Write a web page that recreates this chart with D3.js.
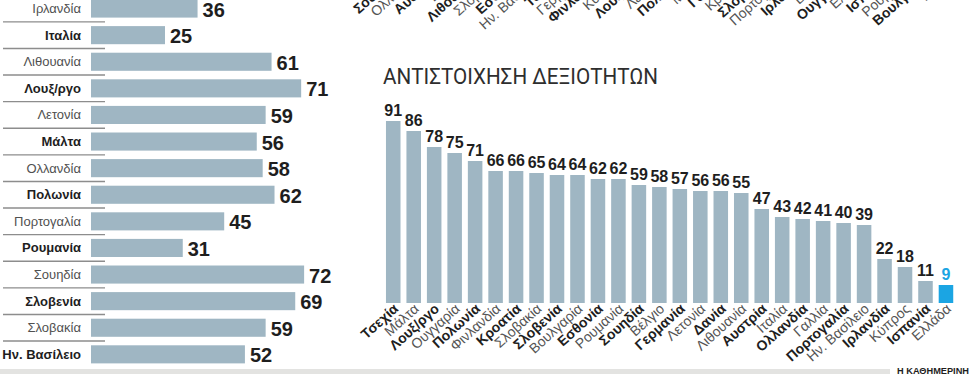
<!DOCTYPE html>
<html>
<head>
<meta charset="utf-8">
<script src="https://cdn.jsdelivr.net/npm/d3@7"></script>
<style>
	body { margin: 0; background: #fff; }
	svg { display: block; }
	.name { font-family: "Liberation Sans", Arial, sans-serif; }
	.num { font-family: "Liberation Sans Narrow", "Liberation Sans", sans-serif; font-weight: bold; fill: #1e1e1e; }
</style>
</head>
<body>
<svg id="chart" width="971" height="377"></svg>
<script>
// left chart (continues from above, only the lower rows are visible)
var leftCountries = ['Ιρλανδία', 'Ιταλία', 'Λιθουανία', 'Λουξ/ργο', 'Λετονία', 'Μάλτα', 'Ολλανδία',
	'Πολωνία', 'Πορτογαλία', 'Ρουμανία', 'Σουηδία', 'Σλοβενία', 'Σλοβακία', 'Ην. Βασίλειο'];
var leftValues = [36, 25, 61, 71, 59, 56, 58, 62, 45, 31, 72, 69, 59, 52];

// right chart: skills matching
var title = 'ΑΝΤΙΣΤΟΙΧΗΣΗ ΔΕΞΙΟΤΗΤΩΝ';
var skillCountries = ['Τσεχία', 'Μάλτα', 'Λουξ/ργο', 'Ουγγαρία', 'Πολωνία', 'Φινλανδία', 'Κροατία',
	'Σλοβακία', 'Σλοβενία', 'Βουλγαρία', 'Εσθονία', 'Ρουμανία', 'Σουηδία', 'Βέλγιο', 'Γερμανία',
	'Λετονία', 'Δανία', 'Λιθουανία', 'Αυστρία', 'Ιταλία', 'Ολλανδία', 'Γαλλία', 'Πορτογαλία',
	'Ην. Βασίλειο', 'Ιρλανδία', 'Κύπρος', 'Ισπανία', 'Ελλάδα'];
var skillValues = [91, 86, 78, 75, 71, 66, 66, 65, 64, 64, 62, 62, 59, 58, 57, 56, 56, 55,
	47, 43, 42, 41, 40, 39, 22, 18, 11, 9];

// labels of the chart above, cut by the top edge
var aboveCountries = ['Σουηδία', 'Ολλανδία', 'Αυστρία', 'Δανία', 'Λιθουανία', 'Σλοβακία', 'Εσθονία',
	'Ην. Βασίλειο', 'Τσεχία', 'Γερμανία', 'Φινλανδία', 'Κύπρος', 'Λουξ/ργο', 'Λετονία', 'Πολωνία',
	'Μάλτα', 'Γαλλία', 'Κροατία', 'Σλοβενία', 'Πορτογαλία', 'Ιρλανδία', 'Βέλγιο', 'Ουγγαρία',
	'Ελλάδα', 'Ισπανία', 'Ρουμανία', 'Βουλγαρία', 'Ιταλία'];

var credit = 'Η ΚΑΘΗΜΕΡΙΝΗ';

var barColor = '#9fb6c3',
	greeceColor = '#1ba5e3';

var svg = d3.select('#chart');

/* left horizontal bars */
(function () {
	var x = d3.scaleLinear().domain([0, 100]).range([91, 387]);
	var y = d3.scaleBand().domain(leftCountries).range([-9, 371.9]).padding(0.32);
	var g = svg.append('g').attr('class', 'left');

	// separators between rows
	g.selectAll('line.sep')
		.data(leftCountries.slice(1))
		.enter().append('line')
		.attr('x1', 3).attr('x2', 105)
		.attr('y1', function (d) { return y(d) - y.step() * y.paddingInner() / 2; })
		.attr('y2', function (d) { return y(d) - y.step() * y.paddingInner() / 2; })
		.attr('stroke', '#8d8d8d')
		.attr('stroke-width', 1.4);

	g.selectAll('rect')
		.data(leftValues)
		.enter().append('rect')
		.attr('x', x(0))
		.attr('y', function (d, i) { return y(leftCountries[i]); })
		.attr('width', function (d) { return x(d) - x(0); })
		.attr('height', y.bandwidth())
		.attr('fill', barColor);

	g.selectAll('text.name')
		.data(leftCountries)
		.enter().append('text')
		.attr('class', 'name')
		.attr('x', 81)
		.attr('y', function (d) { return y(d) + y.bandwidth() / 2 + 4.5; })
		.attr('text-anchor', 'end')
		.attr('font-size', 13)
		.attr('font-weight', function (d, i) { return i % 2 ? 'bold' : 'normal'; })
		.attr('fill', function (d, i) { return i % 2 ? '#1e1e1e' : '#505050'; })
		.text(function (d) { return d; });

	g.selectAll('text.num')
		.data(leftValues)
		.enter().append('text')
		.attr('class', 'num')
		.attr('x', function (d) { return x(d) + 5; })
		.attr('y', function (d, i) { return y(leftCountries[i]) + y.bandwidth() / 2 + 8; })
		.attr('font-size', 20)
		.text(function (d) { return d; });
})();

/* right vertical bars */
(function () {
	var x = d3.scaleBand().domain(skillCountries).range([383, 956.2]).paddingInner(0.29).paddingOuter(0.145);
	var xAbove = d3.scaleBand().domain(aboveCountries).range([383, 956.2]).paddingInner(0.29).paddingOuter(0.145);
	var y = d3.scaleLinear().domain([0, 100]).range([303, 103]);
	var g = svg.append('g').attr('class', 'right');

	function rotatedLabels(scale, names, baseY, parity) {
		g.selectAll(null)
			.data(names)
			.enter().append('text')
			.attr('class', 'name')
			.attr('text-anchor', 'end')
			.attr('font-size', 14)
			.attr('font-weight', function (d, i) { return i % 2 === parity ? 'bold' : 'normal'; })
			.attr('fill', function (d, i) { return i % 2 === parity ? '#1e1e1e' : '#555'; })
			.attr('transform', function (d) {
				return 'translate(' + (scale(d) + scale.bandwidth() / 2 + 6) + ',' + baseY + ') rotate(-42)';
			})
			.text(function (d) { return d; });
	}

	rotatedLabels(xAbove, aboveCountries, -22, 0);

	g.append('text')
		.attr('x', 383)
		.attr('y', 84)
		.attr('font-family', 'Roboto, sans-serif')
		.attr('font-size', 22)
		.attr('fill', '#2e2e2e')
		.attr('textLength', 275)
		.attr('lengthAdjust', 'spacingAndGlyphs')
		.text(title);

	g.selectAll('rect')
		.data(skillValues)
		.enter().append('rect')
		.attr('x', function (d, i) { return x(skillCountries[i]); })
		.attr('y', function (d) { return y(d); })
		.attr('width', x.bandwidth())
		.attr('height', function (d) { return y(0) - y(d); })
		.attr('fill', function (d, i) { return skillCountries[i] === 'Ελλάδα' ? greeceColor : barColor; });

	g.selectAll('text.num')
		.data(skillValues)
		.enter().append('text')
		.attr('class', 'num')
		.attr('x', function (d, i) { return x(skillCountries[i]) + x.bandwidth() / 2; })
		.attr('y', function (d) { return y(d) - 5; })
		.attr('text-anchor', 'middle')
		.attr('font-size', 16)
		.style('fill', function (d, i) { return skillCountries[i] === 'Ελλάδα' ? greeceColor : null; })
		.text(function (d) { return d; });

	rotatedLabels(x, skillCountries, 310, 0);
})();

/* footer rule and credit */
svg.append('rect')
	.attr('x', 0).attr('y', 369)
	.attr('width', 890).attr('height', 5)
	.attr('fill', '#e3e3e1');

svg.append('text')
	.attr('class', 'num')
	.attr('x', 897)
	.attr('y', 374)
	.attr('font-size', 9)
	.attr('textLength', 72)
	.attr('lengthAdjust', 'spacingAndGlyphs')
	.text(credit);
</script>
</body>
</html>
